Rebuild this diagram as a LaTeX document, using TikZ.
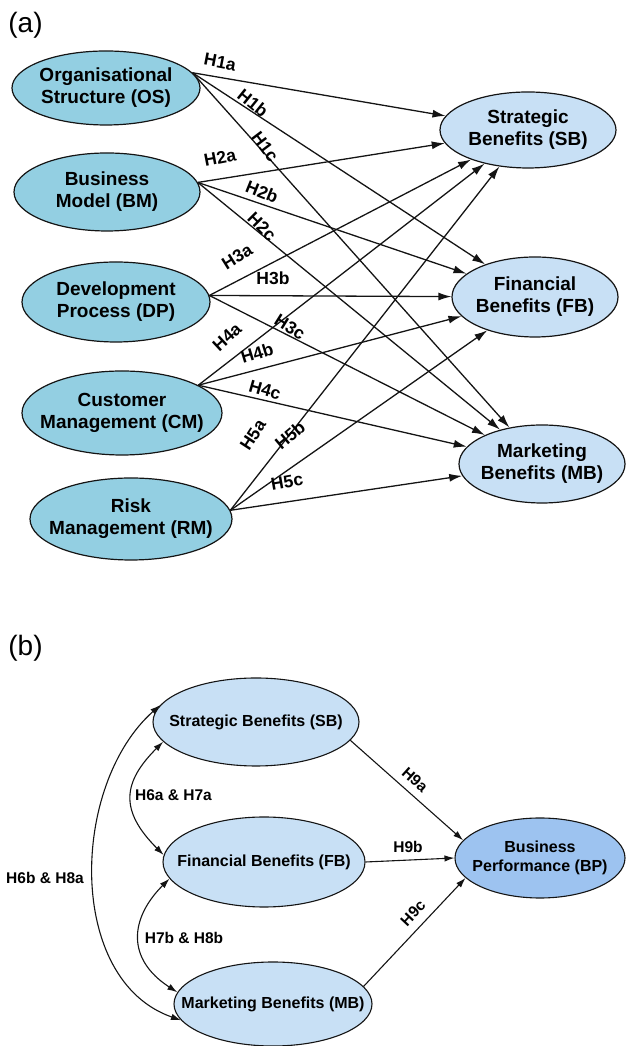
\documentclass[tikz,border=0pt]{standalone}
\usepackage{fontspec}
\setmainfont{Liberation Sans}
\usetikzlibrary{shapes.geometric,arrows.meta}
\definecolor{lblue}{RGB}{147,207,226}
\definecolor{pblue}{RGB}{200,224,245}
\definecolor{bpblue}{RGB}{157,195,240}
\definecolor{ink}{RGB}{20,20,20}
\begin{document}
\begin{tikzpicture}[x=1pt,y=1pt,
  ell/.style={ellipse, draw=ink, line width=1.2pt, inner xsep=-60pt, inner ysep=0pt,
    align=center, font=\bfseries\fontsize{19}{22}\selectfont},
  ellb/.style={ellipse, draw=ink, line width=1.1pt, inner xsep=-60pt, inner ysep=0pt,
    align=center, fill=pblue, font=\bfseries\fontsize{16}{18.5}\selectfont},
  arr/.style={-{Latex[length=13pt,width=8pt]}, line width=1.3pt, draw=ink},
  arrb/.style={-{Latex[length=10pt,width=6.5pt]}, line width=1.1pt, draw=ink},
  dbl/.style={{Latex[length=10pt,width=6.5pt]}-{Latex[length=10pt,width=6.5pt]}, line width=1.1pt, draw=ink},
  lab/.style={font=\bfseries\fontsize{17.5}{20}\selectfont, inner sep=0pt},
  labb/.style={font=\bfseries\fontsize{15.5}{18}\selectfont, inner sep=0pt},
  panel/.style={font=\fontsize{28}{32}\selectfont, inner sep=0pt}
]
\useasboundingbox (0,0) rectangle (626,1046);

% ---------- panel (a) ----------
\node[panel] (pa) at (25.5,1021) {(a)};

\node[ell, fill=lblue, minimum width=188pt, minimum height=74pt] (OS) at (106,958) {Organisational\\Structure (OS)};
\node[ell, fill=lblue, minimum width=186pt, minimum height=78pt] (BM) at (107,854) {Business\\Model (BM)};
\node[ell, fill=lblue, minimum width=188pt, minimum height=80pt] (DP) at (116,744) {Development\\Process (DP)};
\node[ell, fill=lblue, minimum width=200pt, minimum height=84pt] (CM) at (122,633) {Customer\\Management (CM)};
\node[ell, fill=lblue, minimum width=202pt, minimum height=82pt] (RM) at (131,527) {Risk\\Management (RM)};

\node[ell, fill=pblue, minimum width=176pt, minimum height=76pt] (SB) at (528,916) {Strategic\\Benefits (SB)};
\node[ell, fill=pblue, minimum width=166pt, minimum height=80pt] (FB) at (535,749) {Financial\\Benefits (FB)};
\node[ell, fill=pblue, minimum width=166pt, minimum height=78pt] (MB) at (542,582) {Marketing\\Benefits (MB)};

\foreach \s/\a in {OS/10, BM/6, DP/4, CM/20, RM/5}{
  \foreach \t in {SB, FB, MB}{
    \draw[arr] (\s.\a) -- (\t);
  }
}

\node[lab, rotate=-11] (h1a) at (220,984) {H1a};
\node[lab, rotate=-39] (h1b) at (253,943) {H1b};
\node[lab, rotate=-53] (h1c) at (265,899) {H1c};
\node[lab, rotate=11]  (h2a) at (220,888) {H2a};
\node[lab, rotate=-22] (h2b) at (262,854) {H2b};
\node[lab, rotate=-45] (h2c) at (262,819) {H2c};
\node[lab, rotate=32]  (h3a) at (237,789) {H3a};
\node[lab]             (h3b) at (273,768) {H3b};
\node[lab, rotate=-32] (h3c) at (290,719) {H3c};
\node[lab, rotate=43]  (h4a) at (227,709) {H4a};
\node[lab, rotate=17]  (h4b) at (257,693) {H4b};
\node[lab, rotate=-16] (h4c) at (265,656) {H4c};
\node[lab, rotate=57]  (h5a) at (253,611) {H5a};
\node[lab, rotate=40]  (h5b) at (290,611) {H5b};
\node[lab, rotate=10]  (h5c) at (287,564) {H5c};

% ---------- panel (b) ----------
\node[panel] (pb) at (25.5,398) {(b)};

\node[ellb, minimum width=206pt, minimum height=88pt] (SB2) at (256,324) {Strategic Benefits (SB)};
\node[ellb, minimum width=202pt, minimum height=90pt] (FB2) at (264,184) {Financial Benefits (FB)};
\node[ellb, minimum width=198pt, minimum height=84pt] (MB2) at (273,42) {Marketing Benefits (MB)};
\node[ellb, fill=bpblue, minimum width=170pt, minimum height=80pt] (BP) at (540,188) {Business\\Performance (BP)};

\draw[arrb] (SB2.-11) -- (BP.167);
\draw[arrb] (FB2.east) -- (BP.west);
\draw[arrb] (MB2.11) -- (BP.195);

\draw[dbl] (SB2.192) .. controls +(-40,-40) and +(-45,45) .. (FB2.176);
\draw[dbl] (FB2.190) .. controls +(-40,-40) and +(-51,33) .. (MB2.173);
\draw[dbl] (SB2.170) .. controls +(-90,-80) and +(-115,40) .. (MB2.190);

\node[labb] (l67a) at (173.5,251) {H6a \& H7a};
\node[labb] (l78b) at (184,108) {H7b \& H8b};
\node[labb] (l68)  at (45,168) {H6b \& H8a};
\node[labb, rotate=-42] (h9a) at (415,266) {H9a};
\node[labb] (h9b) at (408,199) {H9b};
\node[labb, rotate=47] (h9c) at (413,133) {H9c};
\end{tikzpicture}
\end{document}
